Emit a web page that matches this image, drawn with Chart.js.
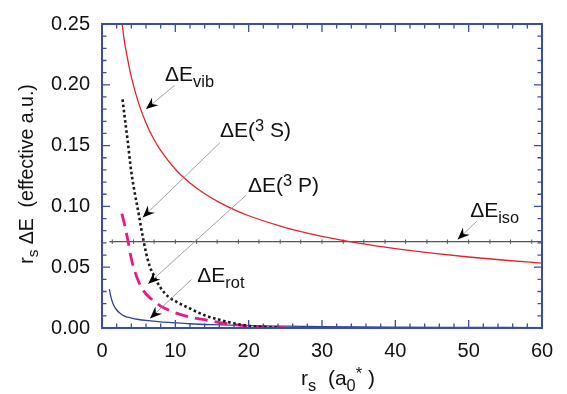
<!DOCTYPE html>
<html>
<head>
<meta charset="utf-8">
<script src="https://cdn.jsdelivr.net/npm/chart.js@4"></script>
<style>
  html, body { margin: 0; padding: 0; background: #fff; }
  #wrap { width: 567px; height: 394px; }
</style>
</head>
<body>
<div id="wrap"><canvas id="c" width="567" height="394"></canvas></div>
<script>
// values (r_s in a0*, r_s*dE in effective a.u.)
const vibR = [2.75, 3, 3.5, 4, 5, 6, 7, 8, 10, 12, 14, 16, 18, 20, 25, 30, 35, 40, 45, 50, 55, 60];
const vibE = [0.250, 0.238, 0.221, 0.2065, 0.1847, 0.1686, 0.156, 0.146, 0.1306, 0.1192, 0.1104, 0.1033, 0.0973, 0.0923, 0.0826, 0.0754, 0.0698, 0.0653, 0.0616, 0.0584, 0.0557, 0.0533];

const sR = [2.8, 3, 3.5, 4, 4.5, 5, 5.5, 6, 6.5, 7, 8, 9, 10, 12, 14, 16, 18, 20, 22, 24];
const sE = [0.188, 0.178, 0.154, 0.128, 0.110, 0.094, 0.077, 0.062, 0.051, 0.044, 0.033, 0.026, 0.022, 0.016, 0.0105, 0.0068, 0.0038, 0.0018, 0.0009, 0.0004];

const pR = [2.7, 3, 3.5, 4, 4.5, 5, 5.5, 6, 7, 8, 9, 10, 12, 14, 16, 18, 20, 22, 25];
const pE = [0.094, 0.087, 0.073, 0.057, 0.046, 0.038, 0.032, 0.028, 0.0225, 0.018, 0.015, 0.0125, 0.009, 0.0068, 0.0045, 0.0028, 0.0015, 0.0008, 0.0003];

const rotR = [1, 1.2, 1.5, 2, 2.5, 3, 4, 5, 6, 8, 10, 12, 15, 20, 25, 30, 40, 50, 60];
const rotE = [0.032, 0.026, 0.020, 0.0148, 0.012, 0.010, 0.0082, 0.0070, 0.0062, 0.0050, 0.0042, 0.0035, 0.0028, 0.0020, 0.0015, 0.0011, 0.0007, 0.0005, 0.0003];

const isoR = [1, 1.4, 4.3, 7.1, 10, 12.9, 15.7, 18.6, 21.4, 24.3, 27.1, 30, 32.9, 35.7, 38.6, 41.4, 44.3, 47.1, 50, 52.9, 55.7, 58.6, 60];
const isoE = 0.071;

const xTicks = [0, 10, 20, 30, 40, 50, 60];
const yTicks = [0, 0.05, 0.10, 0.15, 0.20, 0.25];

const FONT = '"Liberation Sans", Arial, Helvetica, sans-serif';
const BLUE = '#3a4ca4';

const pts = (xs, ys) => xs.map((x, i) => ({ x, y: Array.isArray(ys) ? ys[i] : ys }));

// labels with arrows, placed in data coordinates
const notes = [
  { parts: [['ΔE'], ['vib', 'sub']], at: [8.6, 0.203], from: [9.9, 0.1995], to: [6.0, 0.180] },
  { parts: [['ΔE('], ['3', 'sup'], [' S)']], at: [16.1, 0.157], from: [16.1, 0.1525], to: [5.55, 0.0909] },
  { parts: [['ΔE('], ['3', 'sup'], [' P)']], at: [19.9, 0.112], from: [19.7, 0.1095], to: [6.3, 0.0363] },
  { parts: [['ΔE'], ['rot', 'sub']], at: [13.0, 0.038], from: [12.2, 0.0398], to: [6.55, 0.0079] },
  { parts: [['ΔE'], ['iso', 'sub']], at: [50.2, 0.091], from: [51.1, 0.0877], to: [48.5, 0.0728] }
];

function richWidth(ctx, parts, size) {
  let w = 0;
  parts.forEach(([t, k]) => {
    ctx.font = (k ? size * 0.78 : size) + 'px ' + FONT;
    w += ctx.measureText(t).width;
  });
  return w;
}

function drawRich(ctx, x, y, parts, size) {
  ctx.textBaseline = 'alphabetic';
  ctx.textAlign = 'left';
  parts.forEach(([t, k]) => {
    const s = k ? size * 0.78 : size;
    ctx.font = s + 'px ' + FONT;
    const dy = k === 'sub' ? size * 0.28 : k === 'sup' ? -size * 0.3 : 0;
    ctx.fillText(t, x, y + dy);
    x += ctx.measureText(t).width;
  });
}

function arrow(ctx, x0, y0, x1, y1) {
  ctx.strokeStyle = '#8a8a8a';
  ctx.lineWidth = 0.8;
  ctx.beginPath();
  ctx.moveTo(x0, y0);
  ctx.lineTo(x1, y1);
  ctx.stroke();
  const a = Math.atan2(y1 - y0, x1 - x0);
  ctx.save();
  ctx.translate(x1, y1);
  ctx.rotate(a);
  ctx.fillStyle = '#000';
  ctx.beginPath();
  ctx.moveTo(0, 0);
  ctx.lineTo(-12, -5);
  ctx.lineTo(-8, 0);
  ctx.lineTo(-12, 5);
  ctx.closePath();
  ctx.fill();
  ctx.restore();
}

const decor = {
  id: 'decor',
  afterDraw(chart) {
    const { ctx, chartArea: a, scales: { x, y } } = chart;
    ctx.save();
    // frame and inward ticks on all four sides
    ctx.strokeStyle = BLUE;
    ctx.lineWidth = 2;
    ctx.strokeRect(a.left, a.top, a.right - a.left, a.bottom - a.top);
    ctx.lineWidth = 1.3;
    ctx.beginPath();
    for (let v = 0; v <= 60; v += 2) {
      const px = x.getPixelForValue(v);
      const len = v % 10 === 0 ? 8 : 4.5;
      ctx.moveTo(px, a.bottom); ctx.lineTo(px, a.bottom - len);
      ctx.moveTo(px, a.top); ctx.lineTo(px, a.top + len);
    }
    for (let i = 0; i <= 25; i++) {
      const py = y.getPixelForValue(i / 100);
      const len = i % 5 === 0 ? 8 : 4.5;
      ctx.moveTo(a.left, py); ctx.lineTo(a.left + len, py);
      ctx.moveTo(a.right, py); ctx.lineTo(a.right - len, py);
    }
    ctx.stroke();

    // annotations
    ctx.fillStyle = '#111';
    notes.forEach(n => {
      drawRich(ctx, x.getPixelForValue(n.at[0]), y.getPixelForValue(n.at[1]), n.parts, 21);
      arrow(ctx, x.getPixelForValue(n.from[0]), y.getPixelForValue(n.from[1]),
        x.getPixelForValue(n.to[0]), y.getPixelForValue(n.to[1]));
    });

    // axis titles
    ctx.fillStyle = '#111';
    const xt = [['r'], ['s', 'sub'], ['  (a'], ['0', 'sub'], ['*', 'sup'], [' )']];
    const xw = richWidth(ctx, xt, 21);
    drawRich(ctx, (a.left + a.right) / 2 + 16 - xw / 2, 385, xt, 21);

    const yt = [['r'], ['s', 'sub'], [' ΔE  (effective a.u.)']];
    const yw = richWidth(ctx, yt, 19.5);
    ctx.translate(33, (a.top + a.bottom) / 2 - 2);
    ctx.rotate(-Math.PI / 2);
    drawRich(ctx, -yw / 2, 0, yt, 19.5);
    ctx.restore();
  }
};

new Chart(document.getElementById('c'), {
  type: 'line',
  data: {
    datasets: [
      { label: 'ΔE vib', data: pts(vibR, vibE), borderColor: '#e3232b', borderWidth: 1.3 },
      { label: 'ΔE(3S)', data: pts(sR, sE), borderColor: '#1a1a1a', borderWidth: 2.6, borderDash: [2.6, 2.6] },
      { label: 'ΔE(3P)', data: pts(pR, pE), borderColor: '#e8188a', borderWidth: 2.8, borderDash: [13, 7] },
      { label: 'ΔE rot', data: pts(rotR, rotE), borderColor: '#2f3f9e', borderWidth: 1.3 },
      {
        label: 'ΔE iso', data: pts(isoR, isoE), borderColor: '#555', borderWidth: 1.4,
        pointStyle: 'line', rotation: 90, pointBorderColor: '#555', pointBorderWidth: 1,
        pointRadius: ctx => (ctx.dataIndex === 0 || ctx.dataIndex === isoR.length - 1) ? 0 : 2.2
      }
    ]
  },
  options: {
    responsive: false,
    animation: false,
    elements: { point: { radius: 0 }, line: { cubicInterpolationMode: 'monotone' } },
    layout: { padding: { top: 20, right: 25, left: 0, bottom: 0 } },
    plugins: { legend: { display: false }, tooltip: { enabled: false } },
    scales: {
      x: {
        type: 'linear', min: 0, max: 60,
        afterBuildTicks: s => { s.ticks = xTicks.map(v => ({ value: v })); },
        afterFit: s => { s.height = 66; },
        grid: { display: false, drawTicks: false },
        border: { display: false },
        ticks: { padding: 11, color: '#111', font: { family: FONT, size: 20 }, maxRotation: 0 }
      },
      y: {
        type: 'linear', min: 0, max: 0.25,
        afterBuildTicks: s => { s.ticks = yTicks.map(v => ({ value: v })); },
        afterFit: s => { s.width = 102; },
        grid: { display: false, drawTicks: false },
        border: { display: false },
        ticks: { padding: 12, color: '#111', font: { family: FONT, size: 20 }, callback: v => v.toFixed(2) }
      }
    }
  },
  plugins: [decor]
});
</script>
</body>
</html>
